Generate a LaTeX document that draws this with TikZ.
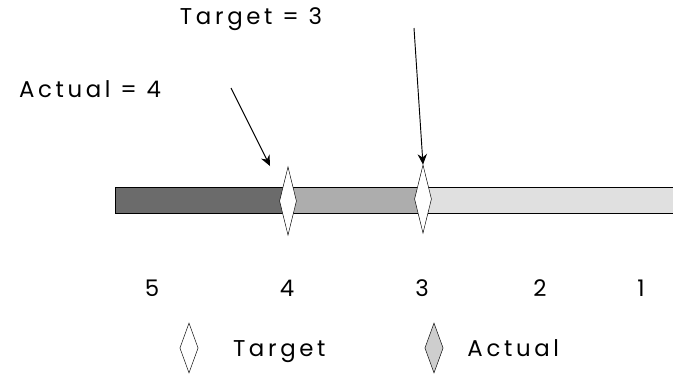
\documentclass[tikz,border=0pt]{standalone}
\usepackage{fontspec}
\setmainfont[LetterSpace=16]{Poppins}
\usetikzlibrary{arrows.meta, positioning, shapes.geometric}
\definecolor{balkendunkel}{gray}{0.42}
\definecolor{balkenmittel}{gray}{0.68}
\definecolor{balkenhell}{gray}{0.88}

\begin{document}
\begin{tikzpicture}[
        x=0.03cm, y=-0.03cm,
        every node/.style={font=\fontsize{19.5}{22}\selectfont,
                           text height=0.75em, text depth=0.25em},
        raute/.style={draw, diamond, fill=white, inner sep=0pt,
                      minimum width=0.51cm, minimum height=2.05cm},
        legraute/.style={draw, diamond, inner sep=0pt,
                      minimum width=0.55cm, minimum height=1.5cm},
        pfeil/.style={thick, -{Stealth[length=9pt, width=8pt]}},
      ]
      \useasboundingbox (0,0) rectangle (673,384);

      % Balken
      \begin{scope}
        \clip (0,0) rectangle (673,384);
        \fill[balkendunkel] (115,187) rectangle (288,213);
        \fill[balkenmittel] (288,187) rectangle (423,213);
        \fill[balkenhell] (423,187) rectangle (680,213);
        \draw[thick] (680,187) -- (115,187) -- (115,213) -- (680,213);
      \end{scope}

      % Rauten auf dem Balken
      \node[raute] (ist) at (288,201) {};
      \node[raute] (soll) at (423,199) {};

      % Beschriftungen oben
      \node (solltext) at (251,22) {Target = 3};
      \node (isttext) at (90,95) {Actual = 4};

      \coordinate (sollstart) at (414,28);
      \coordinate (iststart) at (231,88);
      \coordinate (istziel) at (270,166);
      \draw[pfeil] (sollstart) -- (soll.north);
      \draw[pfeil] (iststart) -- (istziel);

      % Skala
      \foreach \wert/\xpos in {5/152, 4/287, 3/422, 2/540, 1/641} {
        \node (skala\wert) at (\xpos,294) {\wert};
      }

      % Legende
      \node[legraute, fill=white] (legsoll) at (189,348) {};
      \node[right=26pt of legsoll, yshift=-5pt] (legsolltext) {Target};
      \node[legraute, fill=balkenmittel!60] (legist) at (434,348) {};
      \node[right=17pt of legist, yshift=-5pt] (legisttext) {Actual};
    \end{tikzpicture}
\end{document}
